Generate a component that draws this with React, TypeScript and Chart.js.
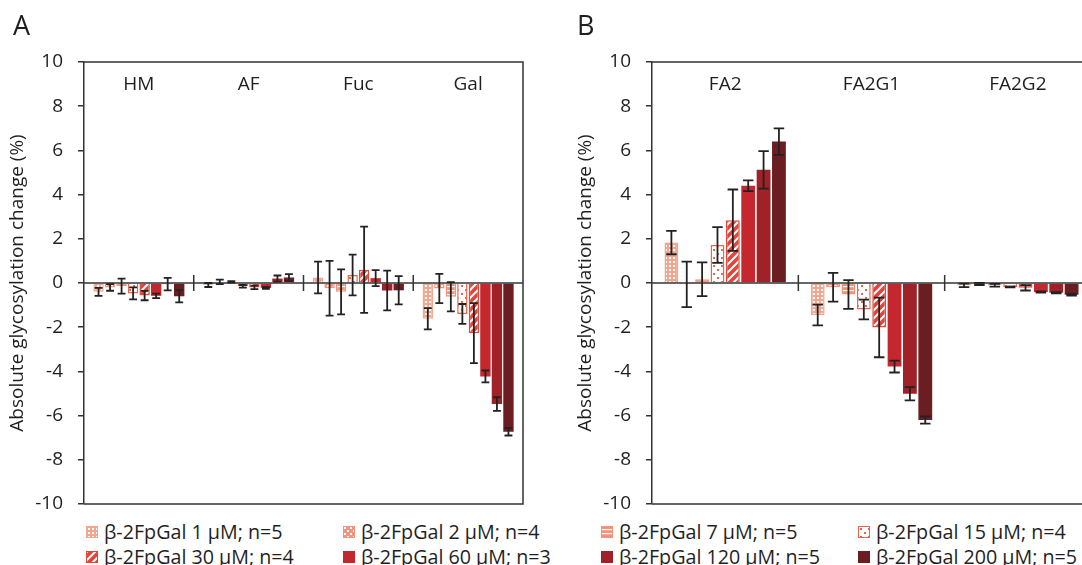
import React, { useEffect, useRef, useMemo } from 'react';
import { Chart, registerables } from 'chart.js';
Chart.register(...registerables);

// ---------- DATA ----------
const seriesLabels = [
  'β-2FpGal 1 µM; n=5',
  'β-2FpGal 2 µM; n=4',
  'β-2FpGal 7 µM; n=5',
  'β-2FpGal 15 µM; n=4',
  'β-2FpGal 30 µM; n=4',
  'β-2FpGal 60 µM; n=3',
  'β-2FpGal 120 µM; n=5',
  'β-2FpGal 200 µM; n=5',
];
const categoriesA = ['HM', 'AF', 'Fuc', 'Gal'];
const categoriesB = ['FA2', 'FA2G1', 'FA2G2'];
const yTickValues = [-10, -8, -6, -4, -2, 0, 2, 4, 6, 8, 10];

// means per category, in series order (1, 2, 7, 15, 30, 60, 120, 200 µM)
const hmMean = [-0.4, -0.2, -0.14, -0.47, -0.57, -0.58, -0.05, -0.6];
const hmSd = [0.18, 0.15, 0.34, 0.27, 0.21, 0.1, 0.28, 0.28];
const afMean = [-0.09, 0.05, 0.05, -0.15, -0.2, -0.22, 0.2, 0.25];
const afSd = [0.09, 0.1, 0.03, 0.06, 0.08, 0.04, 0.14, 0.15];
const fucMean = [0.25, -0.24, -0.4, 0.36, 0.6, 0.22, -0.34, -0.33];
const fucSd = [0.72, 1.24, 1.02, 0.92, 1.95, 0.36, 0.9, 0.64];
const galMean = [-1.62, -0.25, -0.62, -1.4, -2.27, -4.23, -5.48, -6.73];
const galSd = [0.48, 0.66, 0.66, 0.45, 1.36, 0.27, 0.31, 0.17];

const fa2Mean = [1.83, -0.06, 0.17, 1.72, 2.84, 4.4, 5.12, 6.4];
const fa2Sd = [0.53, 1.03, 0.76, 0.81, 1.39, 0.24, 0.85, 0.6];
const fa2g1Mean = [-1.45, -0.19, -0.52, -1.2, -2.01, -3.78, -5.01, -6.2];
const fa2g1Sd = [0.47, 0.65, 0.65, 0.45, 1.35, 0.27, 0.3, 0.16];
const fa2g2Mean = [-0.11, -0.04, -0.1, -0.18, -0.22, -0.41, -0.44, -0.53];
const fa2g2Sd = [0.08, 0.05, 0.06, 0.02, 0.12, 0.03, 0.03, 0.04];

const meansA = [hmMean, afMean, fucMean, galMean];
const sdsA = [hmSd, afSd, fucSd, galSd];
const meansB = [fa2Mean, fa2g1Mean, fa2g2Mean];
const sdsB = [fa2Sd, fa2g1Sd, fa2g2Sd];

// legend groups: which series appear under each panel (row-major, 2 columns)
const legendA = [0, 1, 4, 5];
const legendB = [2, 3, 6, 7];

// ---------- STYLE ----------
const FONT = "'Open Sans', 'Noto Sans', sans-serif";
const TEXT = '#1f1f1f';
const AXIS = '#333333';
const FS = 19;

type Kind = 'grid' | 'checker' | 'hlines' | 'sparse' | 'diag' | 'solid';
const seriesKind: Kind[] = ['grid', 'checker', 'hlines', 'sparse', 'diag', 'solid', 'solid', 'solid'];
const seriesColor = ['#f4a58d', '#f2937a', '#f2937a', '#ee6448', '#e2453a', '#c4272d', '#a02228', '#6a1e22'];

function makeTile(kind: Kind, color: string): HTMLCanvasElement {
  const c = document.createElement('canvas');
  const g = c.getContext('2d') as CanvasRenderingContext2D;
  if (kind === 'grid') {
    c.width = c.height = 4;
    g.fillStyle = color; g.fillRect(0, 0, 4, 4);
    g.fillStyle = '#ffffff'; g.fillRect(1, 1, 2, 2);
  } else if (kind === 'checker') {
    c.width = c.height = 6;
    g.fillStyle = color; g.fillRect(0, 0, 6, 6);
    g.fillStyle = '#ffffff'; g.fillRect(0, 0, 2, 2); g.fillRect(3, 3, 2, 2);
  } else if (kind === 'hlines') {
    c.width = c.height = 4;
    g.fillStyle = color; g.fillRect(0, 0, 4, 4);
    g.fillStyle = '#ffffff'; g.fillRect(0, 2, 4, 1.2);
  } else if (kind === 'sparse') {
    c.width = c.height = 8;
    g.fillStyle = '#ffffff'; g.fillRect(0, 0, 8, 8);
    g.fillStyle = color; g.fillRect(1, 1, 2, 2); g.fillRect(5, 5, 2, 2);
  } else if (kind === 'diag') {
    c.width = c.height = 8;
    g.fillStyle = color; g.fillRect(0, 0, 8, 8);
    g.strokeStyle = '#ffffff'; g.lineWidth = 2;
    g.beginPath();
    g.moveTo(0, 8); g.lineTo(8, 0);
    g.moveTo(-4, 4); g.lineTo(4, -4);
    g.moveTo(4, 12); g.lineTo(12, 4);
    g.stroke();
  } else {
    c.width = c.height = 4;
    g.fillStyle = color; g.fillRect(0, 0, 4, 4);
  }
  return c;
}

const panelPlugin = {
  id: 'panelDecor',
  afterDatasetsDraw(chart: any) {
    const ctx = chart.ctx as CanvasRenderingContext2D;
    const xs = chart.scales.x;
    const ys = chart.scales.y;
    const a = chart.chartArea;
    const cats: string[] = chart.data.labels;
    ctx.save();
    // frame (top, right, bottom)
    ctx.strokeStyle = AXIS;
    ctx.lineWidth = 1.5;
    ctx.beginPath();
    ctx.moveTo(a.left, a.top); ctx.lineTo(a.right, a.top);
    ctx.lineTo(a.right, a.bottom); ctx.lineTo(a.left, a.bottom);
    ctx.stroke();
    // zero line
    const y0 = ys.getPixelForValue(0);
    ctx.beginPath();
    ctx.moveTo(a.left, y0); ctx.lineTo(a.right, y0);
    ctx.stroke();
    // category boundary ticks
    for (let i = 0; i < cats.length - 1; i++) {
      const xb = (xs.getPixelForValue(i) + xs.getPixelForValue(i + 1)) / 2;
      ctx.beginPath();
      ctx.moveTo(xb, y0 - 8); ctx.lineTo(xb, y0 + 8);
      ctx.stroke();
    }
    // error bars
    ctx.strokeStyle = '#222222';
    ctx.lineWidth = 1.8;
    chart.data.datasets.forEach((ds: any, di: number) => {
      const meta = chart.getDatasetMeta(di);
      meta.data.forEach((bar: any, i: number) => {
        const m = ds.data[i];
        const sd = ds.sd[i];
        const yt = ys.getPixelForValue(m + sd);
        const yb = ys.getPixelForValue(m - sd);
        const hw = bar.width * 0.38;
        const x = bar.x;
        ctx.beginPath();
        ctx.moveTo(x, yt); ctx.lineTo(x, yb);
        ctx.moveTo(x - hw, yt); ctx.lineTo(x + hw, yt);
        ctx.moveTo(x - hw, yb); ctx.lineTo(x + hw, yb);
        ctx.stroke();
      });
    });
    // category labels inside the plot
    ctx.fillStyle = TEXT;
    ctx.font = `${FS}px ${FONT}`;
    ctx.textAlign = 'center';
    ctx.textBaseline = 'middle';
    const yl = ys.getPixelForValue(9);
    cats.forEach((c, i) => ctx.fillText(c, xs.getPixelForValue(i), yl));
    ctx.restore();
  },
};

const CW = 545;
const CH = 515;

function Panel({ cats, means, sds, patterns }: { cats: string[]; means: number[][]; sds: number[][]; patterns: any[] }) {
  const ref = useRef<HTMLCanvasElement>(null);
  useEffect(() => {
    const datasets = seriesLabels.map((lab, s) => ({
      label: lab,
      data: cats.map((_, c) => means[c][s]),
      sd: cats.map((_, c) => sds[c][s]),
      backgroundColor: patterns[s],
      borderColor: seriesColor[s],
      borderWidth: seriesKind[s] === 'solid' ? 0 : 1.5,
      barPercentage: 0.9,
      categoryPercentage: 0.84,
    }));
    const chart = new Chart(ref.current as HTMLCanvasElement, {
      type: 'bar',
      data: { labels: cats, datasets: datasets as any },
      options: {
        animation: false,
        responsive: false,
        devicePixelRatio: 1,
        layout: { padding: { top: 62, bottom: CH - 504, left: 0, right: 22 } },
        plugins: { legend: { display: false }, tooltip: { enabled: false } },
        scales: {
          x: { type: 'category', display: false },
          y: {
            min: -10,
            max: 10,
            afterFit: (scale: any) => {
              scale.width = 84;
              scale.paddingTop = 0;
              scale.paddingBottom = 0;
            },
            afterBuildTicks: (scale: any) => {
              scale.ticks = yTickValues.map((v) => ({ value: v }));
            },
            border: { display: true, color: AXIS, width: 1.5 },
            grid: { drawOnChartArea: false, drawTicks: true, tickLength: 6, color: AXIS, lineWidth: 1.5 },
            ticks: { padding: 15, color: TEXT, font: { family: FONT, size: FS } },
            title: {
              display: true,
              text: 'Absolute glycosylation change (%)',
              color: TEXT,
              font: { family: FONT, size: FS },
              padding: { top: 6, bottom: 0 },
            },
          },
        },
      } as any,
      plugins: [panelPlugin],
    });
    return () => chart.destroy();
  }, []);
  return <canvas ref={ref} width={CW} height={CH} style={{ display: 'block' }} />;
}

export default function App() {
  const tiles = useMemo(() => seriesKind.map((k, s) => makeTile(k, seriesColor[s])), []);
  const patterns = useMemo(() => {
    const g = document.createElement('canvas').getContext('2d') as CanvasRenderingContext2D;
    return tiles.map((t) => g.createPattern(t, 'repeat'));
  }, [tiles]);
  const tileUrls = useMemo(() => tiles.map((t) => t.toDataURL()), [tiles]);

  const legend = (items: number[], baseX: number) =>
    items.map((s, k) => {
      const col = k % 2;
      const row = Math.floor(k / 2);
      const x = baseX + col * 257;
      const yc = 531.5 + row * 25;
      return (
        <React.Fragment key={s}>
          <div
            style={{
              position: 'absolute',
              left: x,
              top: yc - 6,
              width: 12,
              height: 12,
              boxSizing: 'border-box',
              backgroundImage: `url(${tileUrls[s]})`,
              border: seriesKind[s] === 'solid' ? 'none' : `1.5px solid ${seriesColor[s]}`,
            }}
          />
          <div
            style={{
              position: 'absolute',
              left: x + 18,
              top: yc - 12.5,
              height: 25,
              lineHeight: '25px',
              fontSize: 19.7,
              whiteSpace: 'nowrap',
              color: TEXT,
            }}
          >
            {seriesLabels[s]}
          </div>
        </React.Fragment>
      );
    });

  return (
    <div
      style={{
        position: 'fixed',
        left: 0,
        top: 0,
        width: 1082,
        height: 565,
        overflow: 'hidden',
        background: '#ffffff',
        fontFamily: FONT,
      }}
    >
      <div style={{ position: 'absolute', left: 0, top: 0 }}>
        <Panel cats={categoriesA} means={meansA} sds={sdsA} patterns={patterns} />
      </div>
      <div style={{ position: 'absolute', left: 568, top: 0 }}>
        <Panel cats={categoriesB} means={meansB} sds={sdsB} patterns={patterns} />
      </div>
      <div style={{ position: 'absolute', left: 13, top: 11, fontSize: 27, lineHeight: 1, color: TEXT }}>A</div>
      <div style={{ position: 'absolute', left: 577, top: 11, fontSize: 27, lineHeight: 1, color: TEXT }}>B</div>
      {legend(legendA, 86)}
      {legend(legendB, 601)}
    </div>
  );
}
